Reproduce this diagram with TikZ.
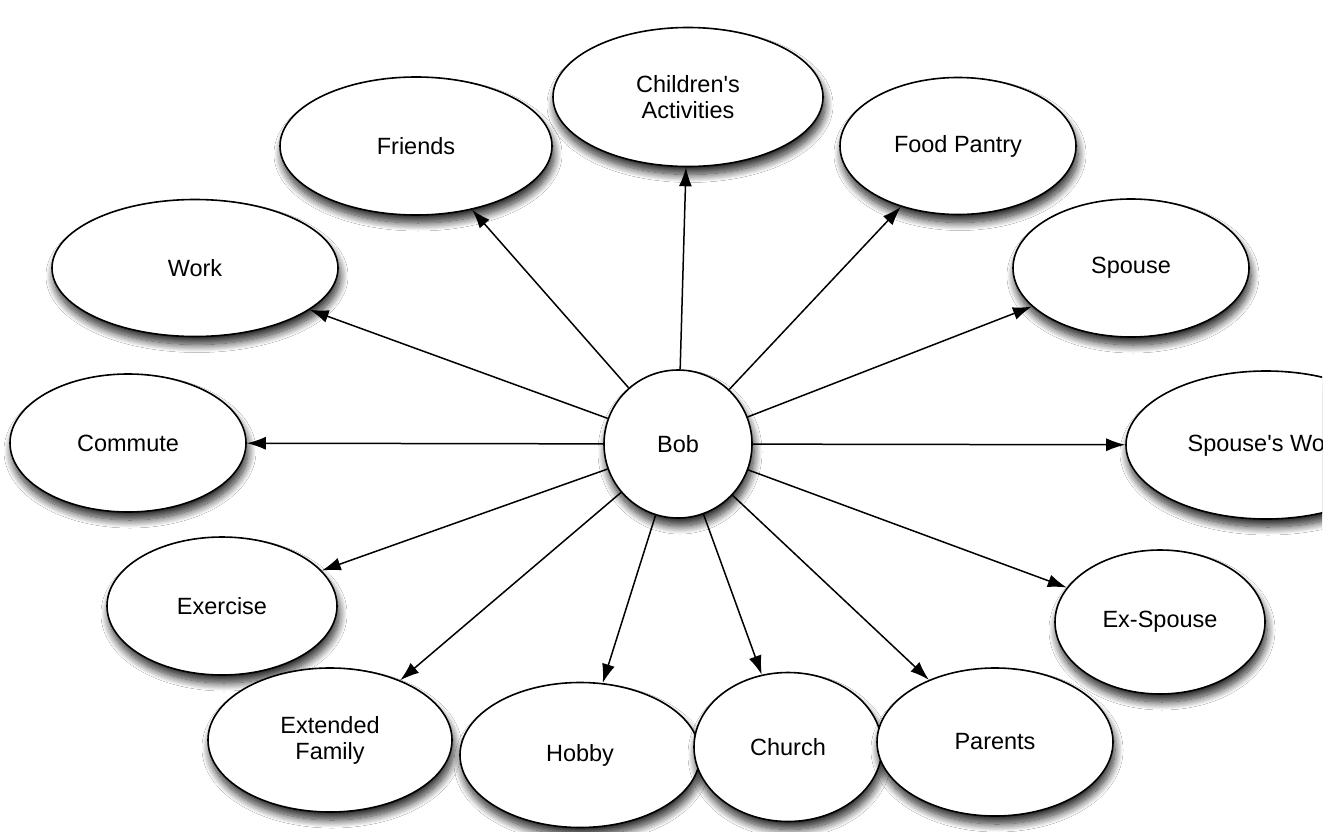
\documentclass[tikz,border=0pt]{standalone}
\usepackage{fontspec}
\setmainfont{Liberation Sans}
\usetikzlibrary{shapes.geometric,arrows.meta,shadows.blur}
\tikzset{
  bubble/.style={ellipse, draw=black, line width=1.6pt, fill=white, align=center,
    inner sep=0pt, font=\fontsize{23.5}{26}\selectfont,
    blur shadow={shadow xshift=2pt, shadow yshift=-8pt, shadow blur radius=8pt, shadow blur steps=14, shadow opacity=85}},
  link/.style={line width=1.5pt, -{Latex[length=19pt,width=13pt]}}
}
\newcommand{\bub}[5]{\node[bubble, minimum width=#3pt, minimum height=#4pt] (#1) at #2 {#5};}
\begin{document}
\begin{tikzpicture}[x=1pt,y=-1pt]
\useasboundingbox (0,0) rectangle (1333,832);
\fill[white] (0,0) rectangle (1333,832);
\clip (0,0) rectangle (1322,832);
\bub{chil}{(688,97)}{270}{139}{Children\textquotesingle s\\Activities}
\bub{friends}{(416,146)}{272}{138}{Friends}
\bub{food}{(958,146)}{236}{137}{Food Pantry}
\bub{work}{(195,268)}{286}{137}{Work}
\bub{spouse}{(1131,268)}{236}{138}{Spouse}
\bub{commute}{(128,443)}{236}{138}{Commute}
\bub{swork}{(1266,445)}{280}{148}{Spouse\textquotesingle s Work}
\bub{exercise}{(222,606)}{230}{138}{Exercise}
\bub{ex}{(1160,622)}{210}{144}{Ex-Spouse}
\bub{ext}{(330,740)}{244}{144}{Extended\\Family}
\bub{hobby}{(580,755)}{240}{145}{Hobby}
\bub{church}{(788,747)}{188}{149}{Church}
\bub{parents}{(995,742)}{236}{148}{Parents}
\node[bubble, circle, minimum size=148pt] (bob) at (678,444) {Bob};
\foreach \t in {chil,friends,food,work,spouse,commute,swork,exercise,ex,ext,hobby,church,parents}
  \draw[link] (bob) -- (\t);
\end{tikzpicture}
\end{document}
